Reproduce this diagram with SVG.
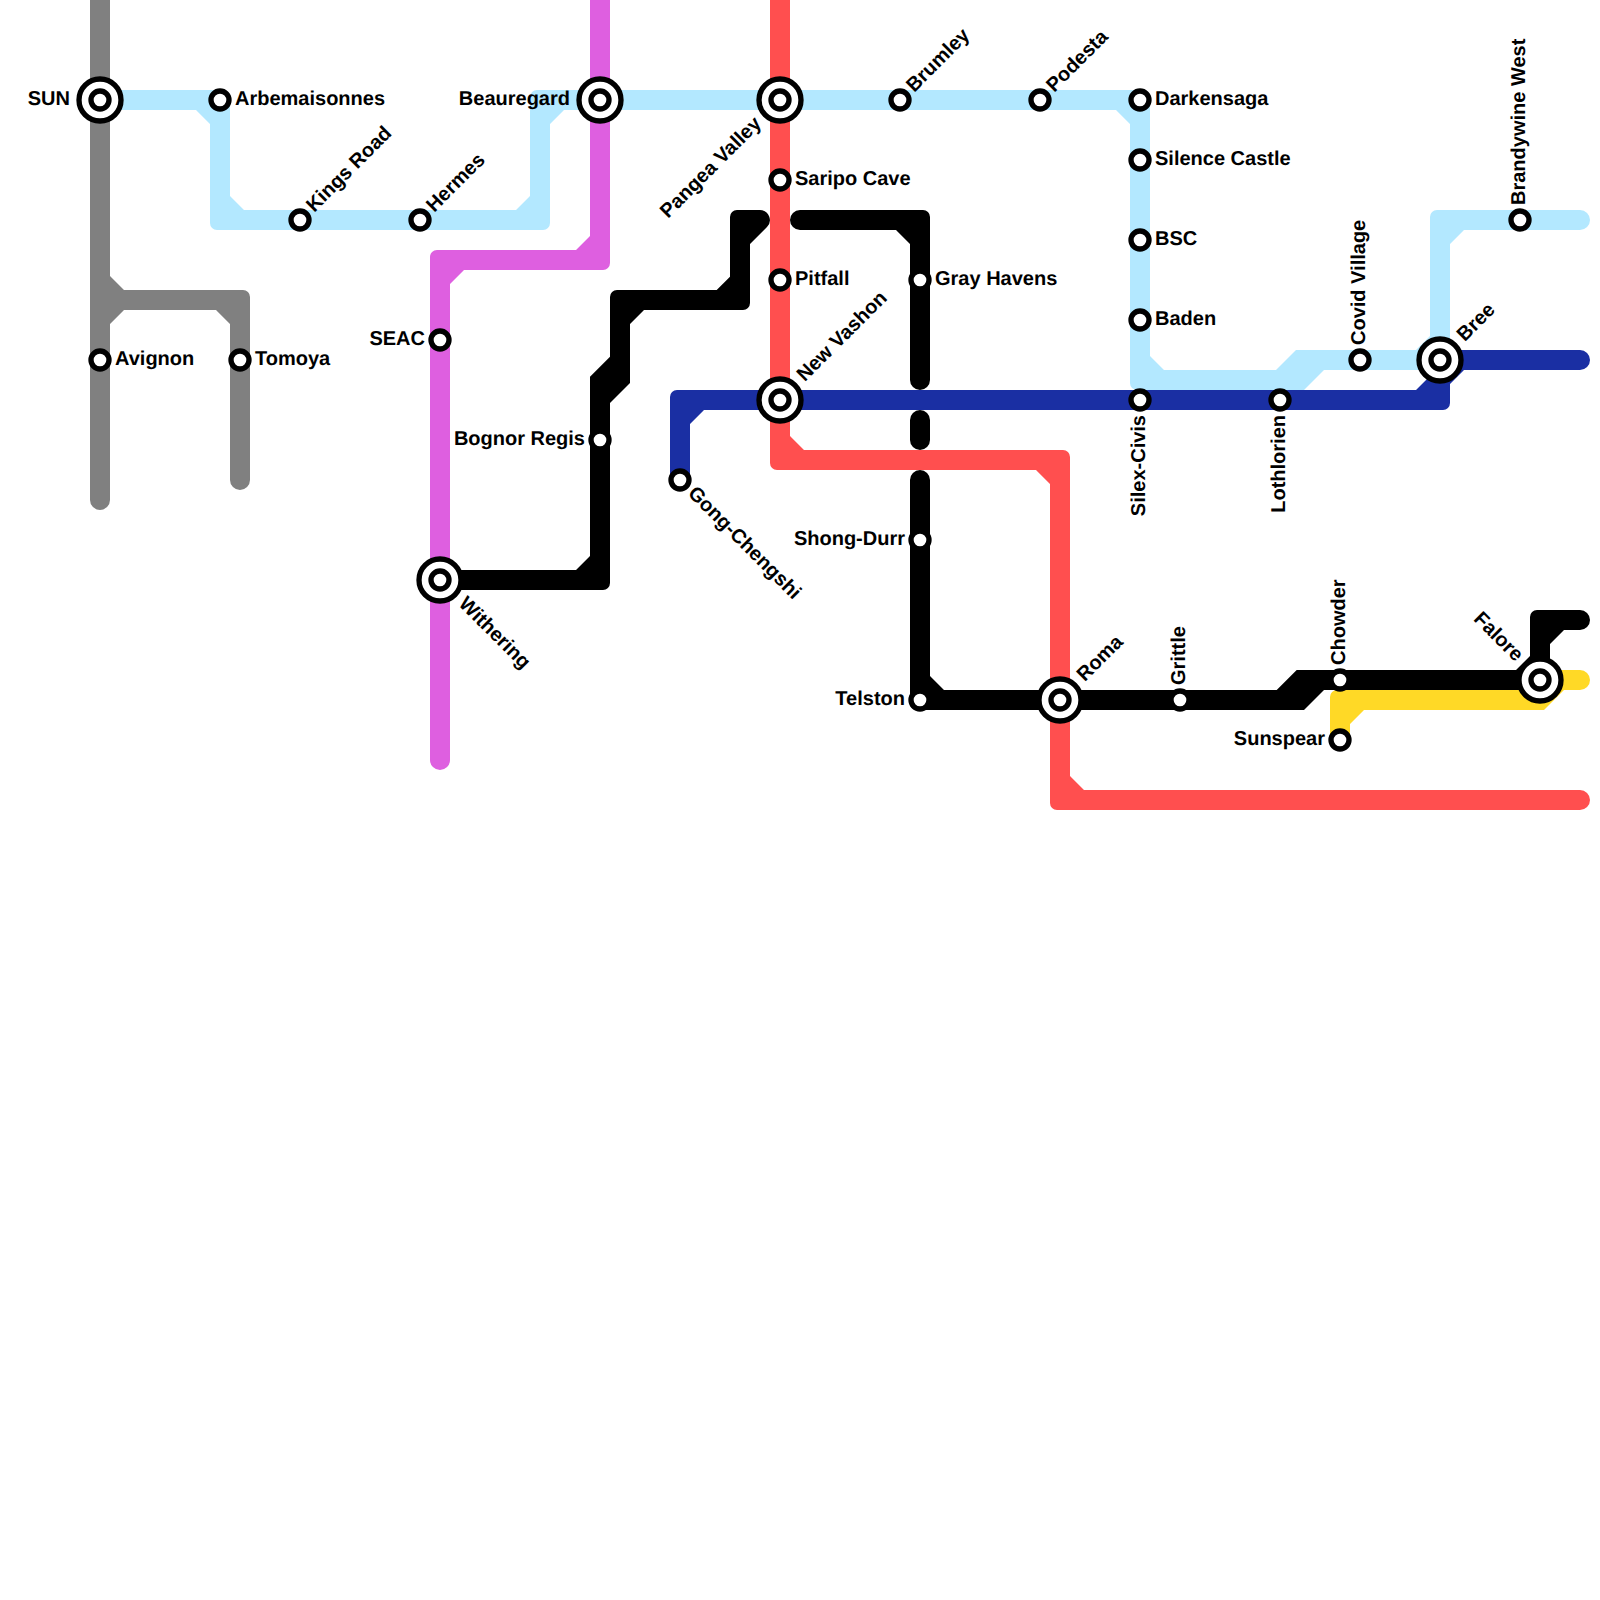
<svg xmlns="http://www.w3.org/2000/svg" width="1600" height="1600" viewBox="0 0 1600 1600">
<style>
text{font:bold 20px "Liberation Sans",Arial,sans-serif;fill:#000;text-rendering:geometricPrecision}
.e{text-anchor:end}
.s,.o{fill:#fff;stroke:#000;stroke-width:5.33}
.s{r:9px}
.o{r:21px}
</style>
<rect width="1600" height="1600" fill="#fff"/>
<g id="connectors">
<path id="line-grey" fill="#808080" d="M90,0V500A10 10 0 0 0 110,500V324L124,310H216L230,324V480A10 10 0 0 0 250,480V297A7 7 0 0 0 243,290H124L110,276V0Z"/>
<path id="line-lightblue" fill="#b3e8ff" d="M100,90H223A7 7 0 0 1 230,97V196L244,210H516L530,196V97A7 7 0 0 1 537,90H1143A7 7 0 0 1 1150,97V356L1164,370H1276L1296,350H1416L1430,336V217A7 7 0 0 1 1437,210H1580A10 10 0 0 1 1580,230H1464L1450,244V363A7 7 0 0 1 1443,370H1324L1304,390H1137A7 7 0 0 1 1130,383V124L1116,110H564L550,124V223A7 7 0 0 1 543,230H217A7 7 0 0 1 210,223V124L196,110H100Z"/>
<path id="line-magenta" fill="#de5fe0" d="M590,0V236L576,250H437A7 7 0 0 0 430,257V760A10 10 0 0 0 450,760V284L464,270H603A7 7 0 0 0 610,263V0Z"/>
<path id="line-red" fill="#ff4f4f" d="M770,0V463A7 7 0 0 0 777,470H1036L1050,484V803A7 7 0 0 0 1057,810H1580A10 10 0 0 0 1580,790H1084L1070,776V457A7 7 0 0 0 1063,450H804L790,436V0Z"/>
<path id="line-blue" fill="#1a2fa3" d="M670,480V397A7 7 0 0 1 677,390H1416L1430,376V350H1580A10 10 0 0 1 1580,370H1464L1450,384V403A7 7 0 0 1 1443,410H704L690,424V480Z"/>
<path id="line-yellow" fill="#ffd926" d="M1330,740V697A7 7 0 0 1 1337,690H1520L1540,670H1580A10 10 0 0 1 1580,690H1564L1544,710H1364L1350,724V740Z"/>
<path id="line-black-a" fill="#000" d="M440,570H576L590,556V376.7L610,356.7V297A7 7 0 0 1 617,290H716.7L730,276.7V217A7 7 0 0 1 737,210H760A10 10 0 0 1 767,227L750,244V303A7 7 0 0 1 743,310H644L630,324V383L610,403V583A7 7 0 0 1 603,590H440Z"/>
<path id="line-black-b" fill="#000" d="M800,210H923A7 7 0 0 1 930,217V380A10 10 0 0 1 910,380V244L896,230H800A10 10 0 0 1 800,210Z"/>
<rect id="line-black-c" fill="#000" x="910" y="410" width="20" height="40" rx="10"/>
<path id="line-black-d" fill="#000" d="M910,480A10 10 0 0 1 930,480V676L944,690H1276.7L1296.7,670H1516L1530,656V617A7 7 0 0 1 1537,610H1580A10 10 0 0 1 1580,630H1564L1550,644V690H1324L1304,710H917A7 7 0 0 1 910,703Z"/>
</g>
<g id="sun"><circle class="o" cx="100" cy="100"/><circle class="s" cx="100" cy="100"/><text class="e" x="70" y="105">SUN</text></g>
<g id="arbemaisonnes"><circle class="s" cx="220" cy="100"/><text x="235" y="105">Arbemaisonnes</text></g>
<g id="kings-road"><circle class="s" cx="300" cy="220"/><text x="315" y="225" transform="rotate(-45 300 220)">Kings Road</text></g>
<g id="hermes"><circle class="s" cx="420" cy="220"/><text x="435" y="225" transform="rotate(-45 420 220)">Hermes</text></g>
<g id="beauregard"><circle class="o" cx="600" cy="100"/><circle class="s" cx="600" cy="100"/><text class="e" x="570" y="105">Beauregard</text></g>
<g id="pangea-valley"><circle class="o" cx="780" cy="100"/><circle class="s" cx="780" cy="100"/><text class="e" x="750" y="105" transform="rotate(-45 780 100)">Pangea Valley</text></g>
<g id="brumley"><circle class="s" cx="900" cy="100"/><text x="915" y="105" transform="rotate(-45 900 100)">Brumley</text></g>
<g id="podesta"><circle class="s" cx="1040" cy="100"/><text x="1055" y="105" transform="rotate(-45 1040 100)">Podesta</text></g>
<g id="darkensaga"><circle class="s" cx="1140" cy="100"/><text x="1155" y="105">Darkensaga</text></g>
<g id="silence-castle"><circle class="s" cx="1140" cy="160"/><text x="1155" y="165">Silence Castle</text></g>
<g id="bsc"><circle class="s" cx="1140" cy="240"/><text x="1155" y="245">BSC</text></g>
<g id="baden"><circle class="s" cx="1140" cy="320"/><text x="1155" y="325">Baden</text></g>
<g id="silex-civis"><circle class="s" cx="1140" cy="400"/><text class="e" x="1125" y="405" transform="rotate(-90 1140 400)">Silex-Civis</text></g>
<g id="lothlorien"><circle class="s" cx="1280" cy="400"/><text class="e" x="1265" y="405" transform="rotate(-90 1280 400)">Lothlorien</text></g>
<g id="covid-village"><circle class="s" cx="1360" cy="360"/><text x="1375" y="365" transform="rotate(-90 1360 360)">Covid Village</text></g>
<g id="bree"><circle class="o" cx="1440" cy="360"/><circle class="s" cx="1440" cy="360"/><text x="1470" y="365" transform="rotate(-45 1440 360)">Bree</text></g>
<g id="brandywine-west"><circle class="s" cx="1520" cy="220"/><text x="1535" y="225" transform="rotate(-90 1520 220)">Brandywine West</text></g>
<g id="saripo-cave"><circle class="s" cx="780" cy="180"/><text x="795" y="185">Saripo Cave</text></g>
<g id="pitfall"><circle class="s" cx="780" cy="280"/><text x="795" y="285">Pitfall</text></g>
<g id="new-vashon"><circle class="o" cx="780" cy="400"/><circle class="s" cx="780" cy="400"/><text x="810" y="405" transform="rotate(-45 780 400)">New Vashon</text></g>
<g id="gong-chengshi"><circle class="s" cx="680" cy="480"/><text x="695" y="485" transform="rotate(45 680 480)">Gong-Chengshi</text></g>
<g id="seac"><circle class="s" cx="440" cy="340"/><text class="e" x="425" y="345">SEAC</text></g>
<g id="withering"><circle class="o" cx="440" cy="580"/><circle class="s" cx="440" cy="580"/><text x="470" y="585" transform="rotate(45 440 580)">Withering</text></g>
<g id="bognor-regis"><circle class="s" cx="600" cy="440"/><text class="e" x="585" y="445">Bognor Regis</text></g>
<g id="avignon"><circle class="s" cx="100" cy="360"/><text x="115" y="365">Avignon</text></g>
<g id="tomoya"><circle class="s" cx="240" cy="360"/><text x="255" y="365">Tomoya</text></g>
<g id="gray-havens"><circle class="s" cx="920" cy="280"/><text x="935" y="285">Gray Havens</text></g>
<g id="shong-durr"><circle class="s" cx="920" cy="540"/><text class="e" x="905" y="545">Shong-Durr</text></g>
<g id="telston"><circle class="s" cx="920" cy="700"/><text class="e" x="905" y="705">Telston</text></g>
<g id="roma"><circle class="o" cx="1060" cy="700"/><circle class="s" cx="1060" cy="700"/><text x="1090" y="705" transform="rotate(-45 1060 700)">Roma</text></g>
<g id="grittle"><circle class="s" cx="1180" cy="700"/><text x="1195" y="705" transform="rotate(-90 1180 700)">Grittle</text></g>
<g id="chowder"><circle class="s" cx="1340" cy="680"/><text x="1355" y="685" transform="rotate(-90 1340 680)">Chowder</text></g>
<g id="sunspear"><circle class="s" cx="1340" cy="740"/><text class="e" x="1325" y="745">Sunspear</text></g>
<g id="falore"><circle class="o" cx="1540" cy="680"/><circle class="s" cx="1540" cy="680"/><text class="e" x="1510" y="685" transform="rotate(45 1540 680)">Falore</text></g>
</svg>
